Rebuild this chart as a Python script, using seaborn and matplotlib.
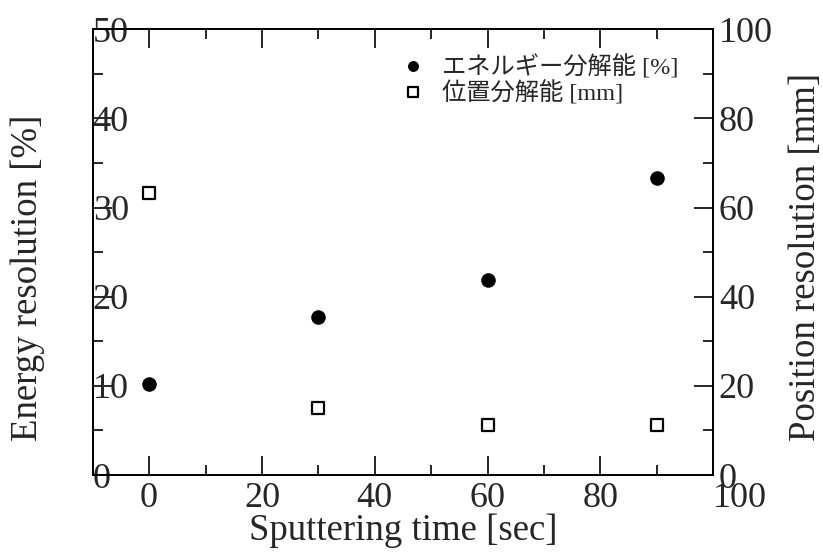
import matplotlib
matplotlib.use("Agg")
import matplotlib.pyplot as plt
import seaborn as sns
import pandas as pd
from matplotlib.ticker import MultipleLocator

# Sputtering time [sec]
sputter_time = [0, 30, 60, 90]
# Energy resolution [%] (left axis)
energy_res = [10.2, 17.7, 21.9, 33.3]
# Position resolution [mm] (right axis)
position_res = [63.2, 15.1, 11.3, 11.2]

energy_label = "エネルギー分解能 [%]"
position_label = "位置分解能 [mm]"
x_ticks = [0, 20, 40, 60, 80, 100]

df = pd.DataFrame({"time": sputter_time, "energy": energy_res, "position": position_res})

sns.set_style("ticks")
plt.rcParams["font.family"] = ["Liberation Serif", "Noto Sans CJK JP"]
plt.rcParams["axes.linewidth"] = 1.4

fig = plt.figure(figsize=(8.23, 5.52), dpi=100)
ax = fig.add_axes([92.7 / 823, 77 / 552, 620.6 / 823, 445.7 / 552])
ax2 = ax.twinx()

sns.scatterplot(data=df, x="time", y="energy", ax=ax, marker="o", s=110,
                color="black", edgecolor="black", linewidth=0, legend=False, zorder=3)
sns.scatterplot(data=df, x="time", y="position", ax=ax2, marker="s", s=80,
                color="white", edgecolor="black", linewidth=1.6, legend=False, zorder=3)

ax.set_xlim(-10, 100)
ax.set_ylim(0, 50)
ax2.set_ylim(0, 100)

ax.set_xticks(x_ticks)
ax.xaxis.set_minor_locator(MultipleLocator(10))
ax.yaxis.set_major_locator(MultipleLocator(10))
ax.yaxis.set_minor_locator(MultipleLocator(5))
ax2.yaxis.set_major_locator(MultipleLocator(20))
ax2.yaxis.set_minor_locator(MultipleLocator(10))

fs_tick = 26
fs_label = 26.5
ax.tick_params(axis="x", which="both", direction="in", top=True, bottom=True,
               labelsize=fs_tick, pad=5, width=1.4)
ax.tick_params(axis="y", which="both", direction="in", left=True, right=False,
               labelsize=fs_tick, pad=0, width=1.4)
ax2.tick_params(axis="y", which="both", direction="in", right=True,
                labelsize=fs_tick, pad=4, width=1.4)
for a in (ax, ax2):
    a.tick_params(which="major", length=14)
    a.tick_params(which="minor", length=7)
    for sp in a.spines.values():
        sp.set_visible(True)
        sp.set_linewidth(1.4)
        sp.set_color("black")

# left axis numbers sit just inside the frame
for lab in ax.get_yticklabels():
    lab.set_horizontalalignment("left")
# last x number is pushed to the right of its tick
xl = ax.get_xticklabels()
xl[-1].set_horizontalalignment("left")

ax.set_xlabel("Sputtering time [sec]", fontsize=fs_label, va="baseline")
ax.xaxis.set_label_coords(0.5, -(540 - 475) / 445.7)
ax.set_ylabel("Energy resolution [%]", fontsize=fs_label, va="center")
ax.yaxis.set_label_coords((28 - 92.7) / 620.6, (475 - 278) / 445.7)
ax2.set_ylabel("Position resolution [mm]", fontsize=fs_label, va="center", rotation=90)
ax2.yaxis.set_label_coords((806 - 92.7) / 620.6, (475 - 257) / 445.7)

handles = [ax.collections[0], ax2.collections[0]]
ax2.legend(handles, [energy_label, position_label], loc="upper left",
           bbox_to_anchor=(403.3 / 823, 1 - 55 / 552), bbox_transform=fig.transFigure,
           frameon=False, borderpad=0, borderaxespad=0, handlelength=0.8,
           handletextpad=0.79, labelspacing=0.07, fontsize=17.5, scatterpoints=1,
           scatteryoffsets=[0.5], markerscale=0.75)

fig.savefig("out.png", dpi=100, facecolor="white")
